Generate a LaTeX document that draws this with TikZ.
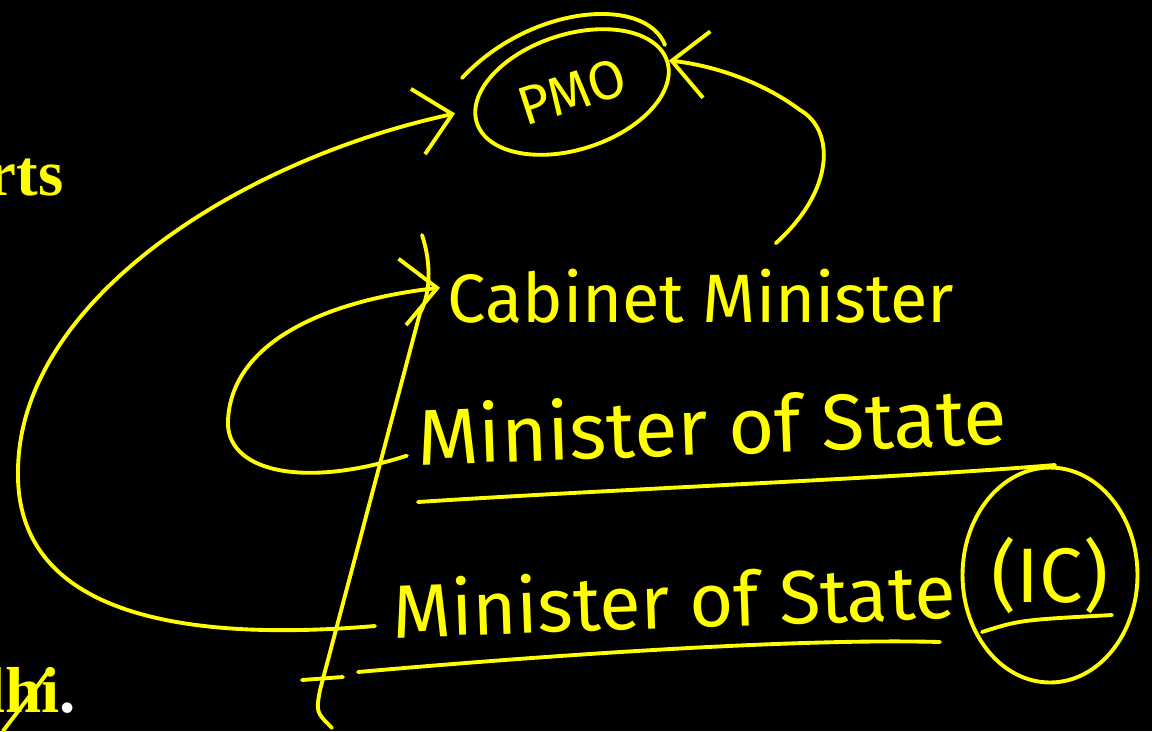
\documentclass[tikz,border=0pt]{standalone}
\usepackage{fontspec}
\setmainfont{Liberation Serif}
\newfontfamily\handfont{Fira Sans}
\usetikzlibrary{calc, arrows.meta, shapes.geometric}

\definecolor{ink}{RGB}{255,255,0}

\tikzset{
	pen/.style={draw=ink, line width=2.2pt, line cap=round, line join=round},
	barb/.style={-{Straight Barb[length=20pt, width=38pt, line width=2.2pt]}},
	hand/.style={text=ink, inner sep=0pt},
	ring/.style={ellipse, pen, inner sep=0pt},
	slide/.style={text=ink, inner sep=0pt, font=\bfseries\fontsize{37}{40}\selectfont}
}

\begin{document}
\begin{tikzpicture}[x=0.02cm, y=-0.02cm]
		\fill [black] (0,0) rectangle (1152,731);
		\useasboundingbox (0,0) rectangle (1152,731);

		\def\rowA{\handfont\fontsize{39}{44}\selectfont}
		\def\rowB{\handfont\fontsize{45}{50}\selectfont}
		\def\rowC{\handfont\fontsize{43}{48}\selectfont}

		% slide text at the left edge, cut off
		\node [slide, anchor=base east] (rts) at (64,195) {rts};
		\node [slide, anchor=base east] (lhi) at (76,712) {lhi\textcolor{white}{.}};
		\draw [pen] (48,672) -- (3,731);

		\node [ring, hand, font=\handfont\fontsize{31}{34}\selectfont, minimum width=4.0cm, minimum height=2.3cm, rotate=18] (pmo) at (572,92) {PMO};
		\draw [pen] (462,78) .. controls (530,5) and (645,-5) .. (665,45);

		\node [hand, font=\rowA, anchor=base west] (cab) at (447,322) {Cabinet Minister};
		\node [hand, font=\rowB, anchor=base west, rotate=2] (mos) at (418,465) {Minister of State};
		\node [hand, font=\rowC, anchor=base west, rotate=2] (mosic) at (393,638) {Minister of State};
		\node [ring, hand, font=\handfont\fontsize{44}{48}\selectfont, minimum width=3.5cm, minimum height=4.3cm] (ic) at (1050,575) {(IC)};

		% underlines
		\draw [pen] (418,502) .. controls (600,490) and (900,478) .. (1055,465);
		\draw [pen] (358,672) .. controls (550,655) and (800,638) .. (940,642);
		\draw [pen] (982,632) .. controls (1020,620) .. (1112,615);

		% hierarchy line
		\draw [pen] (422,235) .. controls (432,265) and (430,295) .. (420,313) -- (320,690) .. controls (316,712) .. (332,728);
		\draw [pen] (302,680) -- (343,677);

		% arrows
		\draw [pen, barb] ([xshift=-0.34cm, yshift=-0.34cm]mosic.west) .. controls (150,645) and (15,600) .. (18,470) .. controls (20,300) and (240,160) .. ([xshift=-0.4cm, yshift=0.2cm]pmo.west);
		\draw [pen, barb] ([xshift=-0.2cm, yshift=-0.42cm]mos.west) .. controls (300,490) and (225,470) .. (228,420) .. controls (232,340) and (330,300) .. ([xshift=-0.14cm, yshift=0.16cm]cab.west);
		\draw [pen, barb] ([xshift=1.5cm, yshift=0.5cm]cab.north) .. controls (835,190) and (835,130) .. (800,110) .. controls (760,80) and (710,65) .. (pmo.east);
	\end{tikzpicture}
\end{document}
